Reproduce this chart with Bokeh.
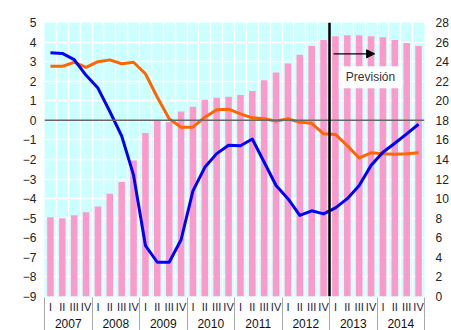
from bokeh.plotting import figure
from bokeh.models import Range1d, LinearAxis, FixedTicker, Span, Arrow, NormalHead, Label, ColumnDataSource, Grid
from bokeh.embed import file_html
from bokeh.resources import INLINE

years = ["2007", "2008", "2009", "2010", "2011", "2012", "2013", "2014"]
quarters = ["I", "II", "III", "IV"]

# bars (right axis, 0-28)
bars = [8.1, 8.0, 8.3, 8.6, 9.2, 10.5, 11.7, 13.9,
        16.7, 18.0, 17.8, 18.9, 19.4, 20.1, 20.3, 20.4,
        20.6, 21.0, 22.1, 22.9, 23.8, 24.7, 25.6, 26.2,
        26.6, 26.7, 26.7, 26.6, 26.5, 26.2, 25.9, 25.6]
# blue line (left axis)
blue = [3.45, 3.42, 3.1, 2.3, 1.65, 0.45, -0.8, -2.8,
        -6.4, -7.25, -7.25, -6.1, -3.6, -2.4, -1.7, -1.27,
        -1.3, -0.95, -2.14, -3.33, -4.0, -4.86, -4.62, -4.78,
        -4.47, -4.0, -3.33, -2.3, -1.63, -1.17, -0.69, -0.2]
# orange line (left axis)
orange = [2.76, 2.76, 2.97, 2.71, 3.0, 3.09, 2.89, 2.97,
          2.38, 1.18, 0.08, -0.35, -0.35, 0.16, 0.54, 0.57,
          0.33, 0.13, 0.08, -0.04, 0.08, -0.1, -0.15, -0.69,
          -0.72, -1.29, -1.92, -1.66, -1.71, -1.73, -1.71, -1.65]

left_ticks = list(range(-9, 6))
right_ticks = list(range(0, 29, 2))
forecast_start = 24  # quarter index where forecast begins

n = len(bars)
xs = [i + 0.5 for i in range(n)]
src = ColumnDataSource(dict(x=xs, bars=bars, blue=blue, orange=orange))

FONT = "Liberation Sans"
Y_MIN, Y_MAX = -9, 5

p = figure(width=451, height=330, x_range=Range1d(0, n), y_range=Range1d(Y_MIN, Y_MAX),
           x_axis_type=None,
           output_backend="svg", toolbar_location=None,
           min_border_left=44, min_border_right=27, min_border_top=22, min_border_bottom=34)
p.background_fill_color = "#CCFFFF"
p.outline_line_color = None
p.border_fill_color = "white"
p.extra_y_ranges = {"right": Range1d(0, 28)}

# grids
p.ygrid[0].ticker = FixedTicker(ticks=left_ticks)
p.ygrid[0].grid_line_color = "white"
p.ygrid[0].grid_line_width = 1.5
p.add_layout(Grid(dimension=0, ticker=FixedTicker(ticks=list(range(0, n + 1))),
                  grid_line_color="white", grid_line_width=1.5))


def plain_axis(ax, size="12px", color="#222222", standoff=8):
    ax.axis_line_color = None
    ax.major_tick_line_color = None
    ax.minor_tick_line_color = None
    ax.major_tick_out = 0
    ax.major_tick_in = 0
    ax.minor_tick_out = 0
    ax.minor_tick_in = 0
    ax.major_label_text_font = FONT
    ax.major_label_text_font_size = size
    ax.major_label_text_color = color
    ax.major_label_standoff = standoff


# left axis
ya = p.yaxis[0]
ya.ticker = FixedTicker(ticks=left_ticks)
plain_axis(ya, standoff=8)

# right axis
ra = LinearAxis(y_range_name="right", ticker=FixedTicker(ticks=right_ticks))
plain_axis(ra, standoff=11)
p.add_layout(ra, "right")

# quarter labels
qa = LinearAxis(ticker=FixedTicker(ticks=xs),
                major_label_overrides={x: quarters[i % 4] for i, x in enumerate(xs)})
plain_axis(qa, size="11px", color="#1A1A40", standoff=4)
p.add_layout(qa, "below")

# year labels, with separators (minor ticks) reaching up to the frame
boundaries = list(range(0, n + 1, 4))
year_pos = [4 * k + 2 for k in range(len(years))]
ya2 = LinearAxis(ticker=FixedTicker(ticks=year_pos, minor_ticks=boundaries),
                 major_label_overrides={v: years[k] for k, v in enumerate(year_pos)})
plain_axis(ya2, size="12px", color="#111111", standoff=3)
ya2.minor_tick_line_color = "#A8A8A8"
ya2.minor_tick_line_width = 1
ya2.minor_tick_in = 18
p.add_layout(ya2, "below")

# lower part of the year separators (label-less axis at the bottom edge)
sep = LinearAxis(ticker=FixedTicker(ticks=[], minor_ticks=boundaries))
plain_axis(sep, size="1px", color=None, standoff=0)
sep.minor_tick_line_color = "#A8A8A8"
sep.minor_tick_line_width = 1
sep.minor_tick_in = 20
p.add_layout(sep, "below")

# bars
p.vbar(x="x", top="bars", bottom=0, width=0.55, source=src, y_range_name="right",
       fill_color="#FF99CC", line_color=None)

# zero line
p.add_layout(Span(location=0, dimension="width", line_color="#666666", line_width=1.5, level="glyph"))

# lines
p.line(x="x", y="orange", source=src, line_color="#FF6600", line_width=3, line_join="round")
p.line(x="x", y="blue", source=src, line_color="#0000FF", line_width=3, line_join="round")

# forecast divider
p.add_layout(Span(location=forecast_start, dimension="height", line_color="black", line_width=2.5))

# arrow and label
p.add_layout(Arrow(end=NormalHead(size=8, fill_color="black", line_color="black"),
                   x_start=24.35, y_start=3.4, x_end=27.8, y_end=3.4,
                   line_color="black", line_width=1.3))
p.add_layout(Label(x=27.45, y=2.2, text="Previsión", text_font=FONT, text_font_size="12px",
                   text_color="#333333", text_align="center", text_baseline="middle",
                   background_fill_color="white", padding=(7, 4)))

open("out.html", "w").write(file_html(p, INLINE))
